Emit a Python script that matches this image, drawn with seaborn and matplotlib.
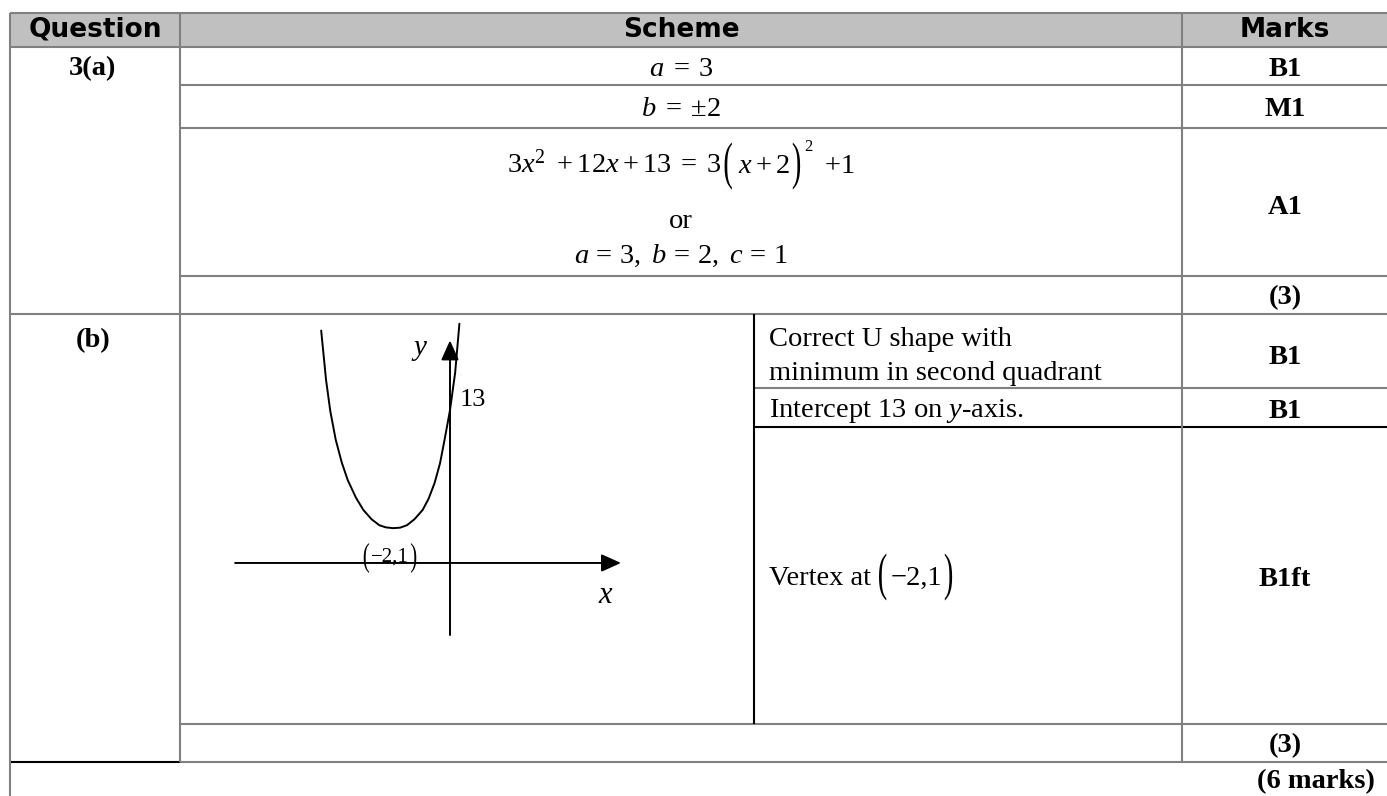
import numpy as np
import pandas as pd
import matplotlib
matplotlib.use("Agg")
import matplotlib.pyplot as plt
import seaborn as sns
from matplotlib.textpath import TextPath
from matplotlib.font_manager import FontProperties
from matplotlib.patches import PathPatch
from matplotlib.transforms import Affine2D

# ── chart content ─────────────────────────────────────────────────────────────
HEADERS = ["Question", "Scheme", "Marks"]
PARTS = ["3(a)", "(b)"]

SCHEME_A = [
    r"$a\;=\;3$",
    r"$b\;=\;{\pm}2$",
    "or",
    r"$a\,=\,3,\ b\,=\,2,\ c\,=\,1$",
]
# completed-square line, split so the brackets can be drawn tall
EQ_LEFT = r"$3x^{2}\ + 12x + 13\;=\;3$"
EQ_INNER = r"$x + 2$"
EQ_POWER = "2"
EQ_RIGHT = r"$+1$"
MARKS_A = ["B1", "M1", "A1", "(3)"]

CRITERIA_B = [
    "Correct U shape with",
    "minimum in second quadrant",
    r"Intercept 13 on $y$-axis.",
]
VERTEX_TEXT = "Vertex at"
VERTEX = "\u22122,1"
MARKS_B = ["B1", "B1", "B1ft", "(3)"]
TOTAL = "(6 marks)"

# sketch of y = 3(x+2)^2 + 1
CURVE_X = [-4.52, -4.35, -4.2, -4.01, -3.8, -3.59, -3.3, -3.04, -2.75, -2.48,
           -2.25, -2.0, -1.75, -1.51, -1.25, -0.96, -0.75, -0.54, -0.35, -0.19,
           0.0, 0.18, 0.33]
CURVE_Y = [21.1, 16.1, 12.9, 10.0, 7.7, 5.9, 4.1, 2.85, 1.9, 1.3,
           1.08, 1.0, 1.05, 1.3, 1.9, 2.85, 4.0, 5.6, 7.6, 10.0,
           13.0, 16.8, 21.8]
SKETCH_LABELS = ["y", "13", "x"]

# ── layout (pixels) ───────────────────────────────────────────────────────────
W, H, DPI = 1387, 796, 100
XL, XQ, XS, XM, XR = 10, 180, 754, 1182, 1388
Y_TOP, Y_HEAD = 13, 47
Y_A = [85, 128, 276, 314]
Y_B1, Y_B2, Y_B3, Y_B4 = 388, 427, 724, 762
GRAY = "#808080"
LW = 1.5
FS = 20.5
X_MARK = 1285

sns.set_theme(style="white")
plt.rcParams.update({
    "font.family": ["Liberation Serif", "DejaVu Serif"],
    "text.color": "black",
    "mathtext.fontset": "custom",
    "mathtext.rm": "Liberation Serif",
    "mathtext.it": "Liberation Serif:italic",
    "mathtext.bf": "Liberation Serif:bold",
})

fig = plt.figure(figsize=(W / DPI, H / DPI), dpi=DPI, facecolor="white")
ax = fig.add_axes([0, 0, 1, 1])
ax.set_xlim(0, W)
ax.set_ylim(H, 0)
ax.axis("off")
renderer = fig.canvas.get_renderer()


def draw_run(items, x, ha="center"):
    """Lay pieces out left to right; ('t', s, size, baseline),
    ('p', char, size, height, ycenter) for a stretched bracket, ('g', px)."""
    placed, cur = [], 0.0
    for it in items:
        if it[0] == "g":
            cur += it[1]
        elif it[0] == "t":
            _, s, size, base = it
            t = ax.text(0, base, s, fontsize=size, ha="left", va="baseline")
            placed.append(("t", t, cur))
            cur += t.get_window_extent(renderer).width
        else:
            _, ch, size, hgt, yc = it
            tp = TextPath((0, 0), ch, size=size * DPI / 72,
                          prop=FontProperties(family="Liberation Serif"))
            ext = tp.get_extents()
            placed.append(("p", (tp, ext, hgt / ext.height, yc), cur))
            cur += ext.width
    x0 = x - cur / 2 if ha == "center" else x
    for kind, obj, off in placed:
        if kind == "t":
            obj.set_x(x0 + off)
        else:
            tp, ext, sy, yc = obj
            tr = (Affine2D().translate(-ext.x0, -(ext.y0 + ext.y1) / 2)
                  .scale(1, -sy).translate(x0 + off, yc) + ax.transData)
            ax.add_patch(PathPatch(tp, facecolor="black", lw=0, transform=tr))


# header band
ax.fill_between([XL, XR], Y_TOP, Y_HEAD, color="#c0c0c0", lw=0)

# grid lines
ax.hlines([Y_TOP, Y_HEAD, Y_A[3]], XL, XR, color=GRAY, lw=LW)
ax.hlines(Y_A[:3], XQ, XR, color=GRAY, lw=LW)
ax.hlines(Y_B1, XS, XR, color=GRAY, lw=LW)
ax.hlines(Y_B2, XS, XR, color="black", lw=LW)
ax.hlines(Y_B3, XQ, XR, color=GRAY, lw=LW)
ax.hlines(Y_B4, XQ, XR, color=GRAY, lw=LW)
ax.hlines(Y_B4, XL, XQ, color="black", lw=LW)
ax.vlines(XL, Y_TOP, H, color=GRAY, lw=LW)
ax.vlines([XQ, XM], Y_TOP, Y_B4, color=GRAY, lw=LW)
ax.vlines(XS, Y_A[3], Y_B3, color="black", lw=LW)

# header text
hdr = dict(family="DejaVu Sans", weight="bold", fontsize=19, ha="center", va="center")
for txt, xc in zip(HEADERS, [(XL + XQ) / 2, (XQ + XM) / 2, X_MARK]):
    ax.text(xc, 30, txt, **hdr)

# part labels
bold = dict(weight="bold", fontsize=FS, ha="center", va="center")
ax.text(93, 69, PARTS[0], **bold)
ax.text(93, 341, PARTS[1], **bold)

# part (a) scheme
xc = (XQ + XM) / 2
for txt, yc in zip(SCHEME_A, [69, 109, 221, 256]):
    ax.text(xc, yc, txt, fontsize=FS, ha="center", va="center")
draw_run([
    ("t", EQ_LEFT, FS, 173),
    ("g", 3),
    ("p", "(", FS, 47, 166),
    ("g", 6),
    ("t", EQ_INNER, FS, 173),
    ("g", 3),
    ("p", ")", FS, 47, 166),
    ("g", 4),
    ("t", EQ_POWER, 12, 151),
    ("g", 12),
    ("t", EQ_RIGHT, FS, 173),
], xc)
for txt, yc in zip(MARKS_A, [69, 109, 208, 298]):
    ax.text(X_MARK, yc, txt, **bold)

# part (b) criteria
for txt, yc in zip(CRITERIA_B, [340, 373, 411]):
    ax.text(769, yc, txt, fontsize=FS, ha="left", va="center")
draw_run([
    ("t", VERTEX_TEXT, FS, 585),
    ("g", 8),
    ("p", "(", FS, 47, 577),
    ("g", 4),
    ("t", VERTEX, FS, 585),
    ("g", 3),
    ("p", ")", FS, 47, 577),
], 769, ha="left")
for txt, yc in zip(MARKS_B, [358, 411, 580, 746]):
    ax.text(X_MARK, yc, txt, **bold)
ax.text(1375, 782, TOTAL, weight="bold", fontsize=FS, ha="right", va="center")

# ── sketch ────────────────────────────────────────────────────────────────────
sx0, sx1, sy0, sy1 = 200, 700, 300, 700
ax2 = fig.add_axes([sx0 / W, 1 - sy1 / H, (sx1 - sx0) / W, (sy1 - sy0) / H])
ax2.set_xlim(-8.772, 8.772)
ax2.set_ylim(-16.48, 24.21)
ax2.axis("off")
ax2.patch.set_alpha(0)

arrow = dict(arrowstyle="-|>,head_length=0.6,head_width=0.27", mutation_scale=20,
             lw=1.4, color="black", shrinkA=0, shrinkB=0)
ax2.annotate("", xy=(6.0, -2.54), xytext=(-7.54, -2.54), arrowprops=arrow)
ax2.annotate("", xy=(0, 20.1), xytext=(0, -9.87), arrowprops=arrow)

sns.lineplot(x=CURVE_X, y=CURVE_Y, ax=ax2, color="black", lw=1.4,
             sort=False, estimator=None)

ax2.text(-1.05, 19.3, SKETCH_LABELS[0], style="italic", fontsize=21, ha="center", va="center")
ax2.text(0.35, 14.0, SKETCH_LABELS[1], fontsize=19, ha="left", va="center")
ax2.text(5.44, -5.8, SKETCH_LABELS[2], style="italic", fontsize=22, ha="center", va="center")
draw_run([
    ("p", "(", 15, 30, 558),
    ("g", 2),
    ("t", VERTEX, 15, 562),
    ("g", 2),
    ("p", ")", 15, 30, 558),
], 390)

fig.savefig("out.png", dpi=DPI, facecolor="white")
